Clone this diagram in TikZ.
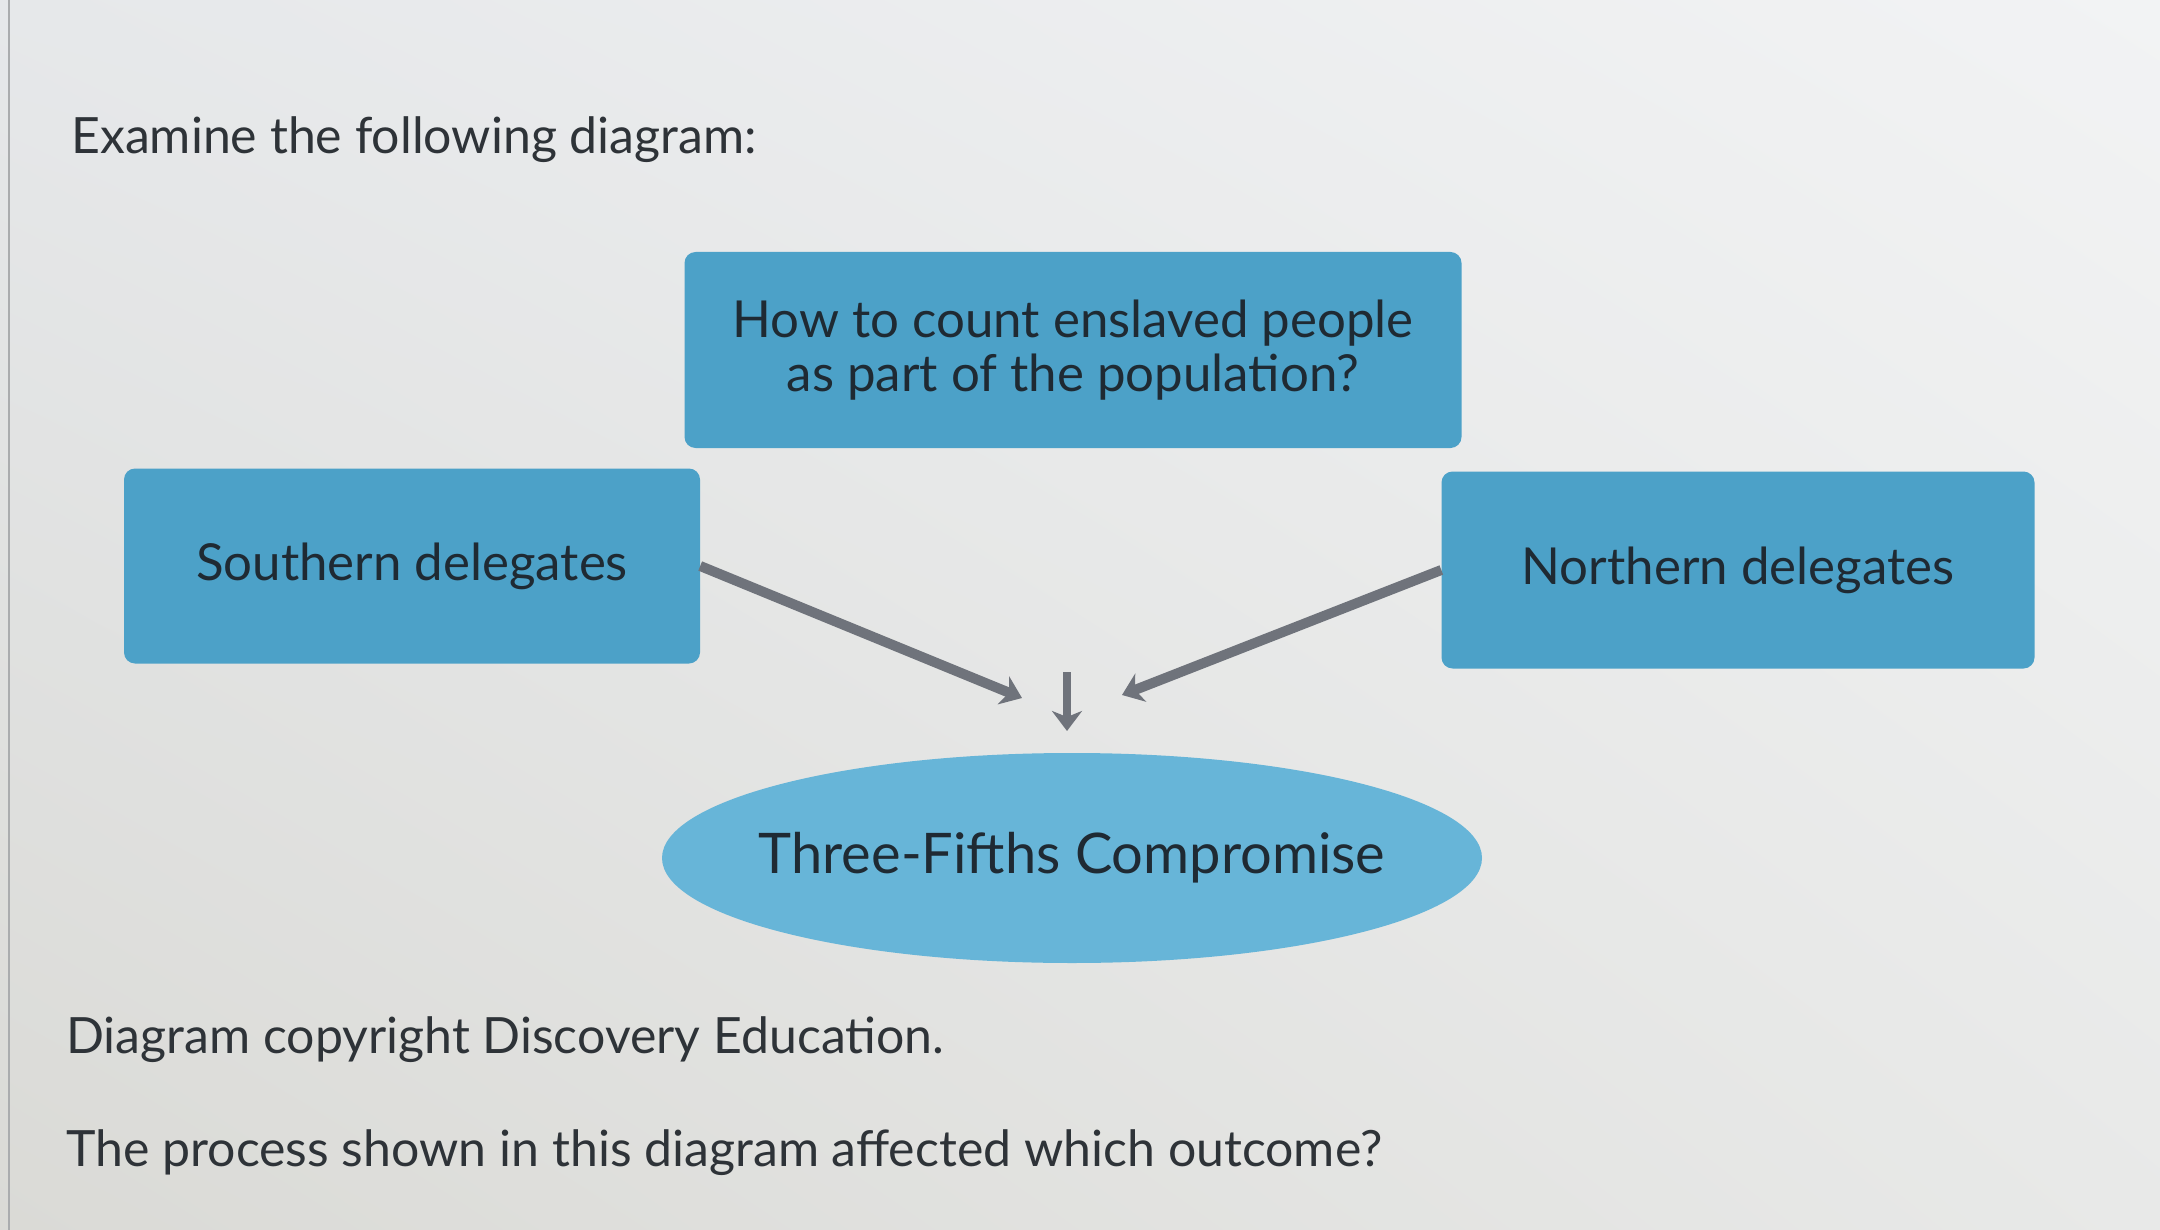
\documentclass[tikz,border=0pt]{standalone}
\usepackage{fontspec}
\setmainfont{Lato}
\usetikzlibrary{arrows.meta,shapes.geometric,shadings}
\definecolor{boxblue}{HTML}{4CA1C8}
\definecolor{ellblue}{HTML}{67B5D8}
\definecolor{inkdark}{HTML}{1F2A33}
\definecolor{txtgray}{HTML}{2E3338}
\definecolor{arrowgray}{HTML}{6F737B}
\definecolor{bgul}{HTML}{E6E8EA}
\definecolor{bgur}{HTML}{F2F3F4}
\definecolor{bgll}{HTML}{DADAD6}
\definecolor{bglr}{HTML}{E8E9E8}
\definecolor{edgegray}{HTML}{AAACAE}
\tikzset{
  qbox/.style={draw=none, fill=boxblue, rounded corners=11pt, align=center,
    text=inkdark, font=\fontsize{51}{54}\selectfont, inner sep=0pt},
  ellbox/.style={ellipse, draw=none, fill=ellblue, text=inkdark,
    font=\fontsize{56}{60}\selectfont, inner xsep=-30pt, inner ysep=0pt},
  plain/.style={anchor=base west, text=txtgray, font=\fontsize{50}{56}\selectfont, inner sep=0pt},
  conn/.style={draw=arrowgray, line width=10pt, -{Stealth[length=20pt,width=30pt,inset=6pt]}},
}
\begin{document}
\begin{tikzpicture}[x=1pt,y=-1pt]
\useasboundingbox (0,0) rectangle (2160,1230);
\shade[upper left=bgul, upper right=bgur, lower left=bgll, lower right=bglr]
  (0,0) rectangle (2160,1230);
\draw[draw=edgegray, line width=2pt] (9,0) -- (9,1230);

\node[plain] (title) at (71,154) {Examine the following diagram:};

\node[qbox, minimum width=777pt, minimum height=196pt] (question) at (1073,350)
  {How to count enslaved people\\as part of the population?};
\node[qbox, minimum width=576pt, minimum height=195pt] (south) at (412,566)
  {Southern delegates};
\node[qbox, minimum width=593pt, minimum height=197pt] (north) at (1738,570)
  {Northern delegates};
\node[ellbox, minimum width=820pt, minimum height=210pt] (comp) at (1072,858)
  {Three-Fifths Compromise};

\coordinate (ltip) at (1022,698);
\coordinate (rtip) at (1122,695);
\coordinate (mtop) at (1067,672);
\coordinate (mtip) at (1067,731);

\draw[conn] (south.east) -- (ltip);
\draw[conn] (north.west) -- (rtip);
\draw[conn, line width=8pt] (mtop) -- (mtip);

\node[plain] (credit) at (66,1053) {Diagram copyright Discovery Education.};
\node[plain] (prompt) at (66,1166) {The process shown in this diagram affected which outcome?};
\end{tikzpicture}
\end{document}
